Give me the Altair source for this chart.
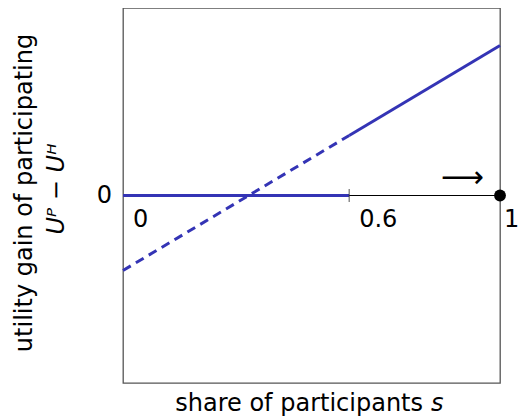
import altair as alt
import pandas as pd

# ---- data ----
s_axis = [0.0, 1.0]
u_axis = [0.0, 0.0]
s_zero = [0.0, 0.6]
u_zero = [0.0, 0.0]
s_dashed = [0.0, 0.6]
u_dashed = [-0.4, 0.32]
s_upper = [0.6, 1.0]
u_upper = [0.32, 0.8]
tick_pos = [0.0, 0.6]
tick_labels = ["0", "0.6"]
end_pos = [1.0]
end_label = ["1"]
mark_tick_pos = [0.6]
dot_s = [1.0]
dot_u = [0.0]
arrow_s = [0.9]
arrow_u = [0.093]
arrow_text = ["⟶"]
ylab_u = [0.0]
ylab_text = ["0"]

BLUE = "#3434B5"
FONT = "DejaVu Sans"
FS = 24

xsc = alt.Scale(domain=[0, 1], nice=False, zero=False)
ysc = alt.Scale(domain=[-1, 1], nice=False, zero=False)

def X(f="s"):
    return alt.X(f"{f}:Q", scale=xsc, axis=None)

def Y(f="u"):
    return alt.Y(f"{f}:Q", scale=ysc, axis=None)

axis_line = alt.Chart(pd.DataFrame({"s": s_axis, "u": u_axis})).mark_line(
    color="black", strokeWidth=1.2).encode(x=X(), y=Y())
zero_line = alt.Chart(pd.DataFrame({"s": s_zero, "u": u_zero})).mark_line(
    color=BLUE, strokeWidth=3).encode(x=X(), y=Y())
dashed = alt.Chart(pd.DataFrame({"s": s_dashed, "u": u_dashed})).mark_line(
    color=BLUE, strokeWidth=3, strokeDash=[9, 6]).encode(x=X(), y=Y())
upper = alt.Chart(pd.DataFrame({"s": s_upper, "u": u_upper})).mark_line(
    color=BLUE, strokeWidth=3).encode(x=X(), y=Y())
tick = alt.Chart(pd.DataFrame({"s": mark_tick_pos, "u": [0.0]})).mark_tick(
    color="#333333", orient="vertical", size=13, thickness=1.2).encode(x=X(), y=Y())
dot = alt.Chart(pd.DataFrame({"s": dot_s, "u": dot_u})).mark_circle(
    color="black", size=140, opacity=1).encode(x=X(), y=Y())
xlabels = alt.Chart(pd.DataFrame({"s": tick_pos, "u": [0.0] * 2, "t": tick_labels})).mark_text(
    font=FONT, fontSize=FS, align="left", baseline="middle", dx=10, dy=24, color="black"
).encode(x=X(), y=Y(), text="t:N")
endlabel = alt.Chart(pd.DataFrame({"s": end_pos, "u": [0.0], "t": end_label})).mark_text(
    font=FONT, fontSize=FS, align="left", baseline="middle", dx=4, dy=24, color="black"
).encode(x=X(), y=Y(), text="t:N")
ylabel0 = alt.Chart(pd.DataFrame({"s": [0.0], "u": ylab_u, "t": ylab_text})).mark_text(
    font=FONT, fontSize=FS, align="right", baseline="middle", dx=-11, color="black"
).encode(x=X(), y=Y(), text="t:N")
arrow = alt.Chart(pd.DataFrame({"s": arrow_s, "u": arrow_u, "t": arrow_text})).mark_text(
    font=FONT, fontSize=30, align="center", baseline="middle", color="black"
).encode(x=X(), y=Y(), text="t:N")

one = pd.DataFrame({"a": [0]})
ytitle1 = alt.Chart(one).mark_text(
    text="utility gain of participating", font=FONT, fontSize=FS, angle=270,
    align="center", baseline="middle", color="black"
).encode(x=alt.value(-98), y=alt.value(185))
ytitle2 = alt.Chart(one).mark_text(
    text="Uᴾ − Uᴴ", font=FONT, fontSize=FS, fontStyle="italic", angle=270,
    align="center", baseline="middle", color="black"
).encode(x=alt.value(-66), y=alt.value(181))
xtitle1 = alt.Chart(one).mark_text(
    text="share of participants", font=FONT, fontSize=FS,
    align="right", baseline="middle", color="black"
).encode(x=alt.value(300), y=alt.value(396))
xtitle2 = alt.Chart(one).mark_text(
    text="s", font=FONT, fontSize=FS, fontStyle="italic",
    align="left", baseline="middle", color="black"
).encode(x=alt.value(308), y=alt.value(396))

chart = alt.layer(
    axis_line, zero_line, dashed, upper, tick, dot, xlabels, endlabel, ylabel0, arrow,
    ytitle1, ytitle2, xtitle1, xtitle2
).properties(
    width=377, height=375,
    autosize=alt.AutoSizeParams(type="none"),
    padding={"left": 115, "top": 0, "right": 18, "bottom": 36},
).configure_view(
    stroke="#555555", strokeWidth=1.3
)

chart.save("out.html", embed_options={"renderer": "svg", "actions": False})
